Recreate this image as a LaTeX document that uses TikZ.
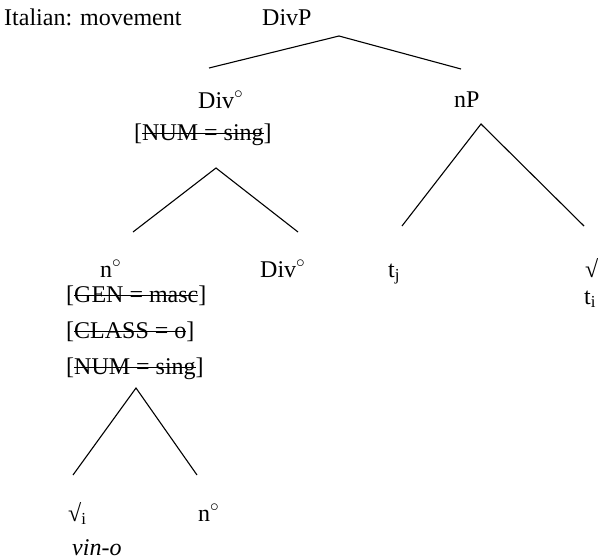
\documentclass[tikz,border=0pt]{standalone}
\usepackage{fontspec}
\setmainfont{Liberation Serif}
\newsavebox{\featbox}
\newcommand{\strikefeat}[1]{[\sbox{\featbox}{#1}\rlap{\rule[0.27em]{\wd\featbox}{1pt}}\usebox{\featbox}]}
\newcommand{\dg}{$^{\circ}$}

\begin{document}
\begin{tikzpicture}[x = 1pt, y = -1pt,
	lbl/.style = {anchor = base west, inner sep = 0pt, font = \fontsize{24}{28}\selectfont},
	branch/.style = {line width = 1.1pt}]
	 \useasboundingbox (0, 0) rectangle (598, 560);
	 
	 \node[lbl] (title) at (4, 25) {Italian: movement};
	 \node[lbl] (DivP) at (262, 25) {DivP};
	 
	 \node[lbl] (Div1) at (198, 108) {Div\dg};
	 \node[lbl] (num1) at (134, 140) {\strikefeat{NUM = sing}};
	 \node[lbl] (nP) at (454, 107) {nP};
	 
	 \node[lbl] (n1) at (100, 277) {n\dg};
	 \node[lbl] (gen) at (66, 302) {\strikefeat{GEN = masc}};
	 \node[lbl] (class) at (66, 338) {\strikefeat{CLASS = o}};
	 \node[lbl] (num2) at (66, 374) {\strikefeat{NUM = sing}};
	 \node[lbl] (Div2) at (260, 277) {Div\dg};
	 \node[lbl] (tj) at (388, 277) {t\textsubscript{j}};
	 \node[lbl] (root1) at (585, 277) {√};
	 \node[lbl] (ti) at (584, 304) {t\textsubscript{i}};
	 
	 \node[lbl] (root2) at (68, 521) {√\textsubscript{i}};
	 \node[lbl] (n2) at (198, 521) {n\dg};
	 \node[lbl] (vino) at (72, 555) {\textit{vin-o}};
	 
	 \coordinate (DivP-v) at (339, 36);
	 \coordinate (Div1-up) at (209, 68);
	 \coordinate (nP-up) at (461, 69);
	 
	 \coordinate (Div1-v) at (216, 168);
	 \coordinate (n1-up) at (133, 232);
	 \coordinate (Div2-up) at (298, 232);
	 
	 \coordinate (nP-v) at (481, 124);
	 \coordinate (tj-up) at (402, 226);
	 \coordinate (root1-up) at (584, 226);
	 
	 \coordinate (n1-v) at (136, 388);
	 \coordinate (root2-up) at (73, 475);
	 \coordinate (n2-up) at (197, 475);
	 
	 \draw[branch] (Div1-up) -- (DivP-v) -- (nP-up);
	 \draw[branch] (n1-up) -- (Div1-v) -- (Div2-up);
	 \draw[branch] (tj-up) -- (nP-v) -- (root1-up);
	 \draw[branch] (root2-up) -- (n1-v) -- (n2-up);
\end{tikzpicture}
\end{document}
